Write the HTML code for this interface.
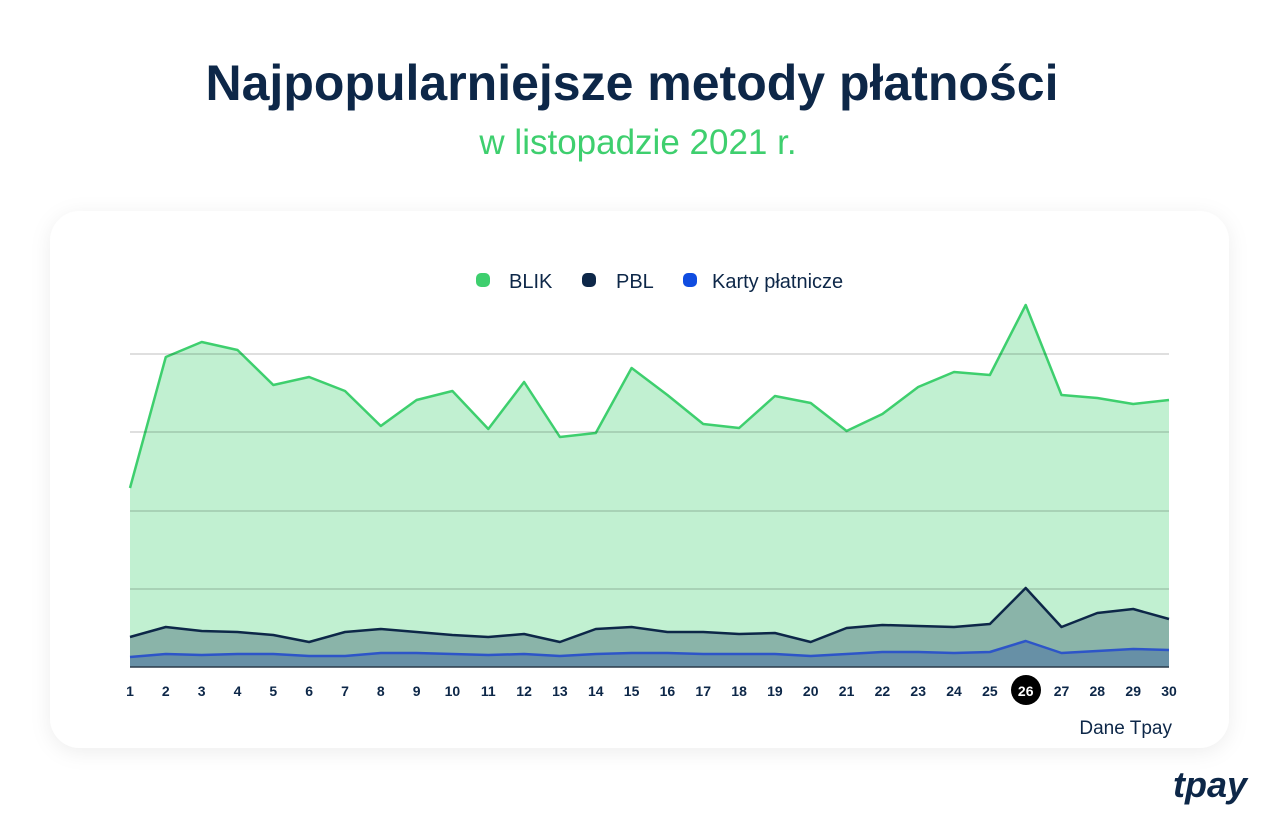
<!DOCTYPE html>
<html><head><meta charset="utf-8"><style>
body{margin:0;width:1275px;height:828px;background:#fff;overflow:hidden;font-family:"Liberation Sans",sans-serif}
</style></head><body>
<svg id="s" width="1275" height="828" xmlns="http://www.w3.org/2000/svg" style="position:absolute;left:0;top:0">
<defs><filter id="sh" x="-10%" y="-10%" width="120%" height="130%"><feDropShadow dx="0" dy="4" stdDeviation="10" flood-color="#000" flood-opacity="0.07"/></filter></defs>
<text x="632" y="100" text-anchor="middle" font-size="50" font-weight="bold" fill="#0d2748" font-family="Liberation Sans">Najpopularniejsze metody płatności</text>
<text x="638" y="154" text-anchor="middle" font-size="35" fill="#3ecf6e" font-family="Liberation Sans">w listopadzie 2021 r.</text>
<rect x="50" y="211" width="1179" height="537" rx="30" fill="#fff" filter="url(#sh)"/>
<rect x="476" y="273" width="14" height="14" rx="5" fill="#3ecf6e"/>
<text x="509" y="288" font-size="20" fill="#0d2748">BLIK</text>
<rect x="582" y="273" width="14" height="14" rx="5" fill="#0d2748"/>
<text x="616" y="288" font-size="20" fill="#0d2748">PBL</text>
<rect x="683" y="273" width="14" height="14" rx="5" fill="#0f4ce0"/>
<text x="712" y="288" font-size="20" fill="#0d2748">Karty płatnicze</text>
<g id="g"></g>
<circle cx="1026" cy="690" r="15" fill="#000"/>
<text x="1172" y="734" text-anchor="end" font-size="19" fill="#0d2748">Dane Tpay</text>
<text x="1247" y="797" text-anchor="end" font-size="36" font-style="italic" font-weight="bold" fill="#0d2748">tpay</text>
</svg>
<script>
var b=[488,357,342,350,385,377,391,426,400,391,429,382,437,433,368,395,424,428,396,403,431,414,387,372,375,305,395,398,404,400];
var p=[637,627,631,632,635,642,632,629,632,635,637,634,642,629,627,632,632,634,633,642,628,625,626,627,624,588,627,613,609,619];
var k=[657,654,655,654,654,656,656,653,653,654,655,654,656,654,653,653,654,654,654,656,654,652,652,653,652,641,653,651,649,650];
function X(i){return 130+i*(1039/29);}
function pts(a){return a.map(function(y,i){return X(i).toFixed(1)+','+y}).join(' ');}
function area(a,f,s){return '<polygon points="130,667 '+pts(a)+' 1169,667" fill="'+f+'"/><polyline points="'+pts(a)+'" fill="none" stroke="'+s+'" stroke-width="2.5" stroke-linejoin="round"/>';}
var h='';
h+=area(b,'#c1f0d1','#3ecf6e');
[354,432,511,589].forEach(function(y){h+='<line x1="130" x2="1169" y1="'+y+'" y2="'+y+'" stroke="#000" stroke-opacity="0.17" stroke-width="1.5"/>';});
h+=area(p,'#8ab4a9','#0d2748');
h+=area(k,'#6790a6','#2d55c8');
h+='<line x1="130" x2="1169" y1="667" y2="667" stroke="#2a3a4a" stroke-width="1.5"/>';
for(var i=0;i<30;i++){h+='<text x="'+X(i).toFixed(1)+'" y="696" text-anchor="middle" font-size="14" font-weight="bold" fill="'+(i==25?'#fff':'#0d2748')+'" font-family="Liberation Sans">'+(i+1)+'</text>';}
var g=document.getElementById('g');g.outerHTML='<g>'+h+'</g>';
var s=document.getElementById('s');var c=s.querySelector('circle');s.insertBefore(c,s.querySelector('g'));
</script>
</body></html>
